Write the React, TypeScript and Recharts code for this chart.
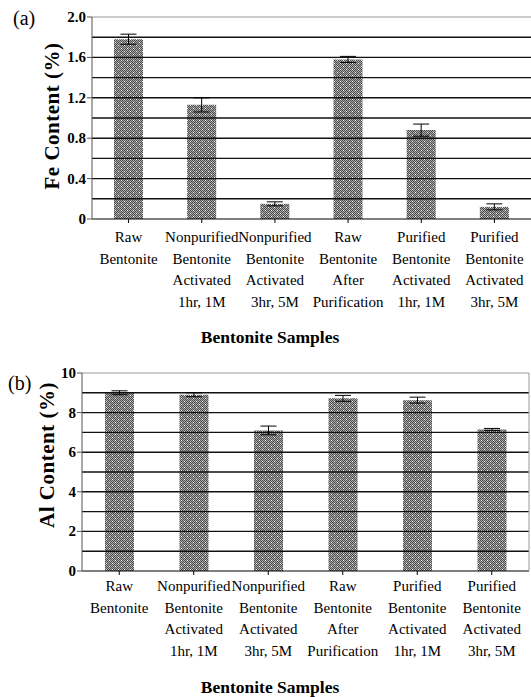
import React from 'react';
import { BarChart, Bar, XAxis, YAxis, ErrorBar, ReferenceLine } from 'recharts';

const FONT = '"Liberation Serif", "Times New Roman", Times, serif';

const sampleNames = [
  'Raw\nBentonite',
  'Nonpurified\nBentonite\nActivated\n1hr, 1M',
  'Nonpurified\nBentonite\nActivated\n3hr, 5M',
  'Raw\nBentonite\nAfter\nPurification',
  'Purified\nBentonite\nActivated\n1hr, 1M',
  'Purified\nBentonite\nActivated\n3hr, 5M',
];

const feValues = [1.78, 1.13, 0.15, 1.58, 0.88, 0.12];
const feErrors = [0.05, 0.07, 0.02, 0.03, 0.06, 0.03];
const feTicks = [0, 0.4, 0.8, 1.2, 1.6, 2.0];
const feGrid = [0.2, 0.4, 0.6, 0.8, 1.0, 1.2, 1.4, 1.6, 1.8];

const alValues = [9.0, 8.9, 7.1, 8.72, 8.63, 7.15];
const alErrors = [0.1, 0.1, 0.22, 0.15, 0.15, 0.05];
const alTicks = [0, 2, 4, 6, 8, 10];
const alGrid = [1, 2, 3, 4, 5, 6, 7, 8, 9];

// checker path for the bar fill pattern
let checker = '';
for (let y = 0; y < 6; y++) {
  for (let x = 0; x < 6; x++) {
    if ((x + y) % 2 === 0) checker += `M${x} ${y}h1v1h-1z`;
  }
}

const SampleTick = (props: any) => {
  const { x, y, payload, first, step } = props;
  const lines = String(payload.value).split('\n');
  return (
    <text x={x} y={y} textAnchor="middle" style={{ fontFamily: FONT, fontSize: 15 }} fill="#000">
      {lines.map((l, i) => (
        <tspan key={i} x={x} y={y + first - 4 + i * step}>{l}</tspan>
      ))}
    </text>
  );
};

const ValueTick = (props: any) => {
  const { x, y, payload, fmt } = props;
  return (
    <text
      x={x}
      y={y}
      textAnchor="end"
      dominantBaseline="central"
      style={{ fontFamily: FONT, fontSize: 15, fontWeight: 'bold' }}
      fill="#000"
    >
      {fmt(payload.value)}
    </text>
  );
};

interface PanelProps {
  id: string;
  values: number[];
  errors: number[];
  ticks: number[];
  grid: number[];
  max: number;
  height: number;
  top: number;
  plotH: number;
  axisWidth: number;
  rightBorder: boolean;
  yTitle: string;
  yTitleX: number;
  yTitleY: number;
  xTitleY: number;
  labelFirst: number;
  fmt: (v: number) => string;
}

const Panel: React.FC<PanelProps> = (p) => {
  const data = sampleNames.map((name, i) => ({ name, value: p.values[i], err: p.errors[i] }));
  const xAxisH = p.height - p.top - p.plotH;
  return (
    <BarChart
      width={531}
      height={p.height}
      data={data}
      barSize={29}
      margin={{ top: p.top, right: p.rightBorder ? 1 : 0, left: 0, bottom: 0 }}
    >
      <defs>
        <pattern id={`pat-${p.id}`} width={6} height={6} patternUnits="userSpaceOnUse">
          <rect width={6} height={6} fill="#aaaaaa" />
          <path d={checker} fill="#4d4d4d" shapeRendering="crispEdges" />
          <rect x={1} y={0} width={1} height={1} fill="#fff" shapeRendering="crispEdges" />
          <rect x={4} y={3} width={1} height={1} fill="#fff" shapeRendering="crispEdges" />
        </pattern>
      </defs>
      <XAxis
        dataKey="name"
        interval={0}
        height={xAxisH}
        tickSize={4}
        tickMargin={0}
        axisLine={{ stroke: '#000' }}
        tickLine={{ stroke: '#000' }}
        tick={<SampleTick first={p.labelFirst} step={21.5} />}
        label={() => (
          <text
            x={270}
            y={p.xTitleY}
            textAnchor="middle"
            style={{ fontFamily: FONT, fontSize: 17.5, fontWeight: 'bold' }}
            fill="#000"
          >
            Bentonite Samples
          </text>
        )}
      />
      <YAxis
        type="number"
        domain={[0, p.max]}
        ticks={p.ticks}
        interval={0}
        width={p.axisWidth}
        tickSize={5}
        tickMargin={1}
        axisLine={{ stroke: '#555' }}
        tickLine={{ stroke: '#555' }}
        tick={<ValueTick fmt={p.fmt} />}
        label={() => (
          <text
            x={p.yTitleX}
            y={p.yTitleY}
            transform={`rotate(-90, ${p.yTitleX}, ${p.yTitleY})`}
            textAnchor="middle"
            dominantBaseline="central"
            style={{ fontFamily: FONT, fontSize: 21, fontWeight: 'bold', letterSpacing: 0.5 }}
            fill="#000"
          >
            {p.yTitle}
          </text>
        )}
      />
      {p.rightBorder && (
        <YAxis
          yAxisId="border"
          orientation="right"
          type="number"
          domain={[0, p.max]}
          width={1}
          tick={false}
          tickLine={false}
          axisLine={{ stroke: '#999' }}
        />
      )}
      {p.grid.map((g) => (
        <ReferenceLine key={g} y={g} stroke="#111" strokeWidth={1.4} />
      ))}
      <ReferenceLine y={p.max} stroke="#999" strokeWidth={1.2} />
      <Bar dataKey="value" fill={`url(#pat-${p.id})`} isAnimationActive={false}>
        <ErrorBar dataKey="err" width={8} stroke="#000" strokeWidth={1} direction="y" isAnimationActive={false} />
      </Bar>
    </BarChart>
  );
};

const panelTag: React.CSSProperties = {
  position: 'absolute',
  fontFamily: FONT,
  fontSize: 20,
  lineHeight: '20px',
  color: '#000',
};

export default function App() {
  return (
    <div style={{ position: 'absolute', left: 0, top: 0, width: 531, height: 697, background: '#fff', overflow: 'hidden' }}>
      <div style={{ position: 'absolute', left: 0, top: 0 }}>
        <Panel
          id="fe"
          values={feValues}
          errors={feErrors}
          ticks={feTicks}
          grid={feGrid}
          max={2}
          height={350}
          top={17}
          plotH={202}
          axisWidth={92}
          rightBorder={false}
          yTitle="Fe Content (%)"
          yTitleX={52}
          yTitleY={116}
          xTitleY={343}
          labelFirst={23}
          fmt={(v) => (v === 0 ? '0' : v.toFixed(1))}
        />
      </div>
      <div style={{ position: 'absolute', left: 0, top: 350 }}>
        <Panel
          id="al"
          values={alValues}
          errors={alErrors}
          ticks={alTicks}
          grid={alGrid}
          max={10}
          height={347}
          top={23}
          plotH={198}
          axisWidth={82}
          rightBorder={true}
          yTitle="Al Content (%)"
          yTitleX={47}
          yTitleY={105}
          xTitleY={343}
          labelFirst={20}
          fmt={(v) => String(v)}
        />
      </div>
      <div style={{ ...panelTag, left: 13, top: 8 }}>(a)</div>
      <div style={{ ...panelTag, left: 8, top: 373 }}>(b)</div>
    </div>
  );
}
